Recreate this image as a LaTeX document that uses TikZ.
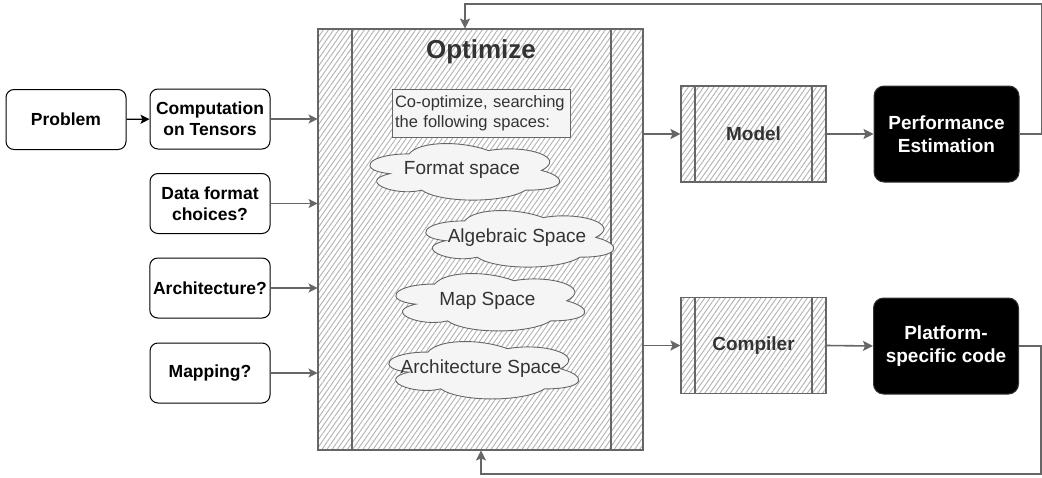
\documentclass[tikz,border=0pt]{standalone}
\usepackage{fontspec}
\setmainfont{Liberation Sans}
\usetikzlibrary{arrows.meta,patterns.meta}
\definecolor{lg}{HTML}{666666}
\definecolor{dk}{HTML}{333333}
\definecolor{pale}{HTML}{F5F5F5}
\tikzset{
  inbox/.style={draw=black, line width=1pt, rounded corners=8pt, minimum width=120pt, minimum height=60pt, align=center, font=\fontsize{17.5}{21}\selectfont\bfseries},
  blackbox/.style={draw=dk, fill=black, text=white, line width=1pt, rounded corners=10pt, minimum width=145pt, minimum height=96pt, align=center, font=\fontsize{19}{23}\selectfont\bfseries},
  hatch/.style={draw=lg, line width=1.1pt, pattern={Lines[angle=55,distance=4.2pt,line width=0.9pt]}, pattern color=lg!50},
  procbox/.style={hatch, minimum width=145pt, minimum height=96pt, text=dk, font=\fontsize{19}{23}\selectfont\bfseries},
  cloudline/.style={draw=lg, fill=pale, line width=0.9pt},
  cloudtxt/.style={text=dk, font=\fontsize{19}{23}\selectfont},
  garr/.style={draw=lg, line width=1.2pt, -{Stealth[length=9pt,width=9pt,inset=2pt]}},
  barr/.style={draw=black, line width=1.3pt, -{Stealth[length=9pt,width=9pt,inset=2pt]}},
  fb/.style={draw=lg, line width=1.6pt, -{Stealth[length=10pt,width=10pt,inset=2pt]}},
  pics/dcloud/.style={code={
    \path[cloudline] (0.25,0.25) .. controls (0.05,0.25) and (0,0.5) .. (0.16,0.55)
      .. controls (0,0.66) and (0.18,0.9) .. (0.31,0.8)
      .. controls (0.4,1) and (0.7,1) .. (0.8,0.8)
      .. controls (1,0.8) and (1,0.6) .. (0.875,0.5)
      .. controls (1,0.3) and (0.8,0.1) .. (0.625,0.2)
      .. controls (0.5,0.05) and (0.3,0.05) .. (0.25,0.25) -- cycle;
  }},
}
\begin{document}
\begin{tikzpicture}[x=1pt,y=-1pt]
\useasboundingbox (0,0) rectangle (1042,477);
\fill[white] (0,0) rectangle (1042,477);

% left boxes
\node[inbox] (prob) at (66,119.5) {Problem};
\node[inbox] (comp) at (210,119) {Computation\\on Tensors};
\node[inbox] (data) at (210,203.5) {Data format\\choices?};
\node[inbox] (arch) at (210,288) {Architecture?};
\node[inbox] (map) at (210,373) {Mapping?};

% Optimize
\node[hatch, minimum width=325pt, minimum height=421pt, inner sep=0pt] (opt) at (480.5,239.5) {};
\draw[lg, line width=1.1pt] (352,29) -- (352,450);
\draw[lg, line width=1.1pt] (611,29) -- (611,450);
\node[text=dk, font=\fontsize{26}{30}\selectfont\bfseries] (optt) at (481,52) {Optimize};

\node[draw=lg, fill=pale, line width=0.9pt, minimum width=178pt, minimum height=48pt, text width=172pt, inner sep=3pt, align=left, text=dk, font=\fontsize{16.5}{20}\selectfont] (co) at (481,113) {Co-optimize, searching\\the following spaces:};

% clouds
\begin{scope}[shift={(356,137.4)}, x=212pt, y=-66pt]
  \pic {dcloud};
  \node[cloudtxt] (c1) at (0.5,0.5) {Format space};
\end{scope}
\begin{scope}[shift={(412,204.4)}, x=210pt, y=-66pt]
  \pic {dcloud};
  \node[cloudtxt] (c2) at (0.5,0.5) {Algebraic Space};
\end{scope}
\begin{scope}[shift={(382,267.3)}, x=211pt, y=-67pt]
  \pic {dcloud};
  \node[cloudtxt] (c3) at (0.5,0.5) {Map Space};
\end{scope}
\begin{scope}[shift={(375,335.3)}, x=212pt, y=-67pt]
  \pic {dcloud};
  \node[cloudtxt] (c4) at (0.5,0.5) {Architecture Space};
\end{scope}

% Model / Compiler
\node[procbox] (model) at (753.5,134) {Model};
\draw[lg, line width=1.1pt] (695,86) -- (695,182);
\draw[lg, line width=1.1pt] (812,86) -- (812,182);
\node[procbox] (compiler) at (753.5,345.5) {Compiler};
\draw[lg, line width=1.1pt] (695,297.5) -- (695,393.5);
\draw[lg, line width=1.1pt] (812,297.5) -- (812,393.5);

\node[blackbox] (perf) at (946.5,134) {Performance\\Estimation};
\node[blackbox] (plat) at (946,346) {Platform-\\specific code};

% connectors
\draw[barr] (prob) -- (comp);
\draw[garr] (comp.east) -- (opt.west |- comp.east);
\draw[garr] (data.east) -- (opt.west |- data.east);
\draw[garr] (arch.east) -- (opt.west |- arch.east);
\draw[garr] (map.east) -- (opt.west |- map.east);
\draw[fb] (opt.east |- model.west) -- (model.west);
\draw[fb] (model.east) -- (perf.west);
\draw[fb] (opt.east |- compiler.west) -- (compiler.west);
\draw[fb] (compiler.east) -- (plat.west);

\coordinate (fbtop) at (465,4);
\coordinate (fbbot) at (481,474);
\draw[fb] (perf.east) -- ++(22,0) |- (fbtop) -- (opt.north -| fbtop);
\draw[fb] (plat.east) -- ++(22,0) |- (fbbot) -- (opt.south -| fbbot);
\end{tikzpicture}
\end{document}
